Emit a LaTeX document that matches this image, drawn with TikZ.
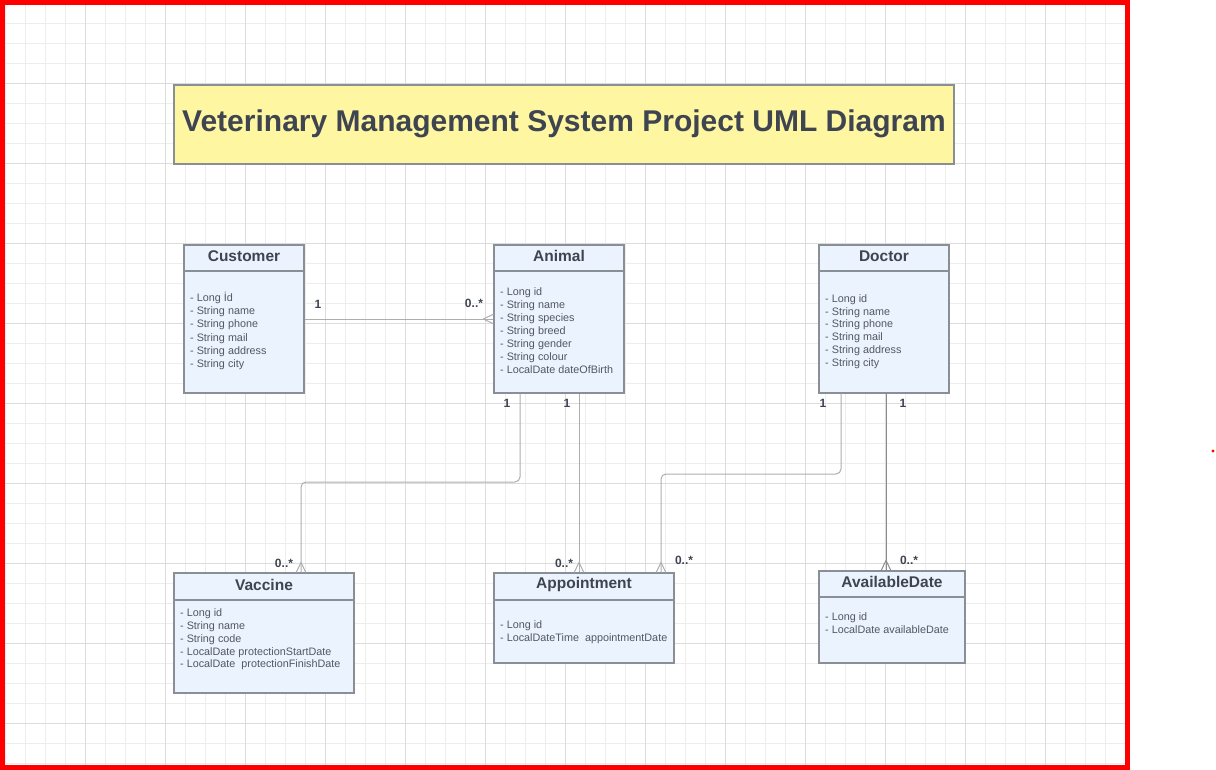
\documentclass[tikz,border=0pt]{standalone}
\usepackage{fontspec}
\setmainfont{Liberation Sans}
\usetikzlibrary{calc}
\definecolor{gridminor}{HTML}{EDEDED}
\definecolor{gridmajor}{HTML}{DCDCDC}
\definecolor{boxfill}{HTML}{EBF3FE}
\definecolor{boxdraw}{HTML}{8A8E95}
\definecolor{titlefill}{HTML}{FFF6A2}
\definecolor{textdark}{HTML}{3E4550}
\definecolor{textattr}{HTML}{525860}
\definecolor{connlight}{HTML}{ADADAD}
\definecolor{conndark}{HTML}{8C8C8C}
\tikzset{
  classbox/.style={draw=boxdraw, line width=1.2pt, fill=boxfill, inner sep=0pt},
  titlebox/.style={draw=boxdraw, line width=1.2pt, fill=titlefill, inner sep=0pt},
  classname/.style={inner sep=0pt, text=textdark, font=\fontsize{15.5}{18}\selectfont\bfseries},
  attr/.style={inner sep=0pt, anchor=west, align=left, text=textattr, font=\fontsize{10.8}{13.3}\selectfont},
  mult/.style={inner sep=0pt, text=textdark, font=\fontsize{12}{14}\selectfont\bfseries},
  conn/.style={draw=connlight, line width=1pt},
  conndk/.style={draw=conndark, line width=1pt},
  sepline/.style={draw=boxdraw, line width=1.2pt},
}
\newcommand{\crowdown}[2][conn]{%
  \draw[#1] ($(#2)+(0,-10)$) -- ($(#2)+(-4.8,0)$);
  \draw[#1] ($(#2)+(0,-10)$) -- ($(#2)+(4.8,0)$);}
\newcommand{\crowright}[2][conn]{%
  \draw[#1] ($(#2)+(-10,0)$) -- ($(#2)+(0,-4.8)$);
  \draw[#1] ($(#2)+(-10,0)$) -- ($(#2)+(0,4.8)$);}
\begin{document}
\begin{tikzpicture}[x=1pt,y=-1pt]
\useasboundingbox (0,0) rectangle (1216,770);
% grid
\foreach \gx in {5,25,...,1125} {\draw[gridminor, line width=0.8pt] (\gx,4) -- (\gx,766);}
\foreach \gy in {3,23,...,763} {\draw[gridminor, line width=0.8pt] (4,\gy) -- (1126,\gy);}
\foreach \gx in {85,165,...,1125} {\draw[gridmajor, line width=0.9pt] (\gx,4) -- (\gx,766);}
\foreach \gy in {83,163,...,763} {\draw[gridmajor, line width=0.9pt] (4,\gy) -- (1126,\gy);}
% frame
\draw[red, line width=5pt] (2.5,2.5) rectangle (1127.5,767.5);
\fill[red] (1213,451) circle (1.6);

% title
\node[titlebox, minimum width=780pt, minimum height=79pt] (title) at (564,124.5) {};
\node[inner sep=0pt, text=textdark, font=\fontsize{30}{34}\selectfont\bfseries] (titletext) at (564,124) {Veterinary Management System Project UML Diagram};

% classes
\node[classbox, minimum width=120pt, minimum height=148pt] (cust) at (244,319) {};
\draw[sepline] (cust.north west |- 0,271) -- (cust.north east |- 0,271);
\node[classname] (custname) at (244,256) {Customer};
\node[attr] (custattr) at (190,331) {- Long İd\\- String name\\- String phone\\- String mail\\- String address\\- String city};

\node[classbox, minimum width=130pt, minimum height=148pt] (anim) at (559,319) {};
\draw[sepline] (anim.north west |- 0,271) -- (anim.north east |- 0,271);
\node[classname] (animname) at (559,256) {Animal};
\node[attr, font=\fontsize{10.8}{12.9}\selectfont] (animattr) at (500,330.5) {- Long id\\- String name\\- String species\\- String breed\\- String gender\\- String colour\\- LocalDate dateOfBirth};

\node[classbox, minimum width=130pt, minimum height=148pt] (doc) at (884,319) {};
\draw[sepline] (doc.north west |- 0,271) -- (doc.north east |- 0,271);
\node[classname] (docname) at (884,256) {Doctor};
\node[attr, font=\fontsize{10.8}{12.8}\selectfont] (docattr) at (825,331.5) {- Long id\\- String name\\- String phone\\- String mail\\- String address\\- String city};

\node[classbox, minimum width=180pt, minimum height=120pt] (vac) at (264,633) {};
\draw[sepline] (vac.north west |- 0,600) -- (vac.north east |- 0,600);
\node[classname] (vacname) at (264,584.5) {Vaccine};
\node[attr, font=\fontsize{10.8}{12.8}\selectfont] (vacattr) at (180,639.5) {- Long id\\- String name\\- String code\\- LocalDate protectionStartDate\\- LocalDate~ protectionFinishDate};

\node[classbox, minimum width=180pt, minimum height=90pt] (app) at (584,618) {};
\draw[sepline] (app.north west |- 0,600) -- (app.north east |- 0,600);
\node[classname] (appname) at (584,584.5) {Appointment};
\node[attr, font=\fontsize{10.8}{12.8}\selectfont] (appattr) at (500,632.5) {- Long id\\- LocalDateTime~ appointmentDate};

\node[classbox, minimum width=146pt, minimum height=92pt] (avail) at (892,617) {};
\draw[sepline] (avail.north west |- 0,597) -- (avail.north east |- 0,597);
\node[classname] (availname) at (892,581.5) {AvailableDate};
\node[attr, font=\fontsize{10.8}{12.8}\selectfont] (availattr) at (825,623) {- Long id\\- LocalDate availableDate};

% connectors
\draw[conn] (cust.east) -- (anim.west);
\crowright{anim.west}

\coordinate (a1) at ([xshift=-39pt]anim.south);
\coordinate (v1) at ([xshift=37pt]vac.north);
\draw[conn, rounded corners=5pt] (a1) -- (a1 |- 0,482) -- (v1 |- 0,482) -- (v1);
\crowdown{v1}

\coordinate (a2) at ([xshift=20pt]anim.south);
\coordinate (p1) at ([xshift=-5pt]app.north);
\draw[conn] (a2) -- (p1);
\crowdown{p1}

\coordinate (d1) at ([xshift=-43pt]doc.south);
\coordinate (p2) at ([xshift=77pt]app.north);
\draw[conn, rounded corners=5pt] (d1) -- (d1 |- 0,474) -- (p2 |- 0,474) -- (p2);
\crowdown{p2}

\coordinate (d2) at ([xshift=2pt]doc.south);
\coordinate (av1) at ([xshift=-6pt]avail.north);
\draw[conndk] (d2) -- (av1);
\crowdown[conndk]{av1}

% multiplicities
\node[mult] (m1) at (318,304) {1};
\node[mult] (m2) at (474,303) {0..*};
\node[mult] (m3) at (507,403) {1};
\node[mult] (m4) at (567,403) {1};
\node[mult] (m5) at (284,563) {0..*};
\node[mult] (m6) at (564,563) {0..*};
\node[mult] (m7) at (823,403) {1};
\node[mult] (m8) at (903,403) {1};
\node[mult] (m9) at (684,560) {0..*};
\node[mult] (m10) at (909,560) {0..*};
\end{tikzpicture}
\end{document}
